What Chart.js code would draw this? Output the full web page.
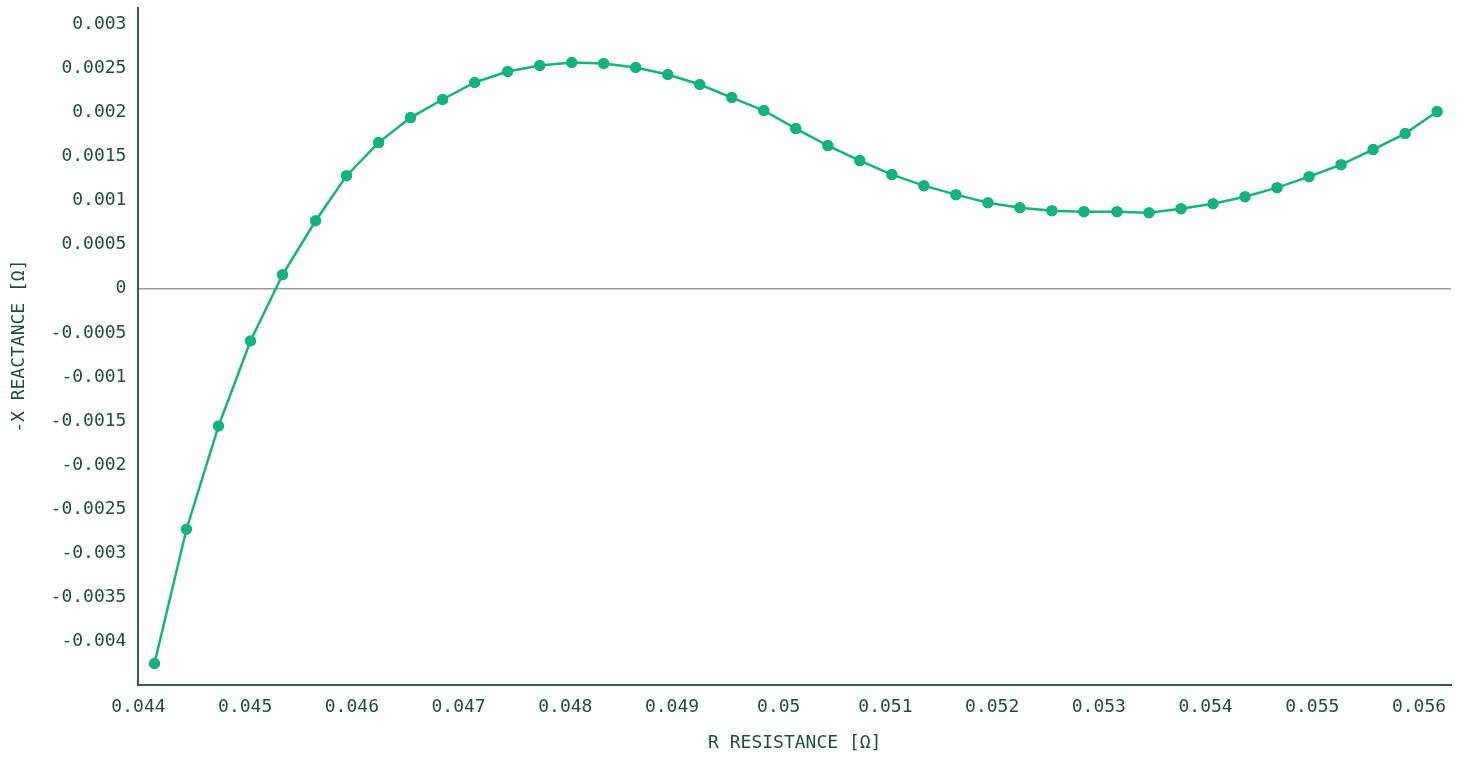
<!DOCTYPE html>
<html>
<head>
<meta charset="utf-8">
<script src="https://cdn.jsdelivr.net/npm/chart.js@4/dist/chart.umd.min.js"></script>
<style>
  html, body { margin: 0; padding: 0; background: #fff; }
</style>
</head>
<body>
<canvas id="nyquistChart" width="1466" height="758"></canvas>
<script>
// Resistance (R) values, ohm
const resistance = [
    0.04415, 0.04445, 0.04475, 0.04505, 0.04535, 0.04566, 0.04595, 0.04625, 0.04655, 0.04685,
    0.04715, 0.04746, 0.04776, 0.04806, 0.04836, 0.04866, 0.04896, 0.04926, 0.04956, 0.04986,
    0.05016, 0.05046, 0.05076, 0.05106, 0.05136, 0.05166, 0.05196, 0.05226, 0.05256, 0.05286,
    0.05317, 0.05347, 0.05377, 0.05407, 0.05437, 0.05467, 0.05497, 0.05527, 0.05557, 0.05587,
    0.05617
];

// -X reactance values, ohm
const reactance = [
    -0.004248, -0.002726, -0.001556, -0.000591, 0.000159, 0.000772, 0.001283, 0.001658, 0.001942, 0.002147,
    0.002340, 0.002464, 0.002533, 0.002567, 0.002555, 0.002510, 0.002430, 0.002317, 0.002169, 0.002022,
    0.001817, 0.001624, 0.001454, 0.001295, 0.001170, 0.001068, 0.000977, 0.000920, 0.000886, 0.000875,
    0.000875, 0.000863, 0.000909, 0.000965, 0.001045, 0.001147, 0.001272, 0.001408, 0.001579, 0.001760,
    0.002010
];

const textColor = '#1d4f37';
const lineColor = '#10b47e';
const fontFamily = '"DejaVu Sans Mono", "Liberation Mono", monospace';

const points = resistance.map((r, i) => ({ x: r, y: reactance[i] }));

// nettoyer les zéros en trop
const fmt = v => String(parseFloat(Number(v).toFixed(6)));

Chart.defaults.font.family = fontFamily;
Chart.defaults.font.size = 18;
Chart.defaults.color = textColor;

new Chart(document.getElementById('nyquistChart'), {
    type: 'scatter',
    data: {
        datasets: [{
            data: points,
            showLine: true,
            borderColor: lineColor,
            backgroundColor: lineColor,
            borderWidth: 2.5,
            pointRadius: 4.5,
            pointHoverRadius: 5,
            tension: 0
        }]
    },
    options: {
        responsive: false,
        animation: false,
        layout: {
            padding: { top: 7, right: 15, bottom: 4, left: 9 }
        },
        plugins: {
            legend: { display: false },
            tooltip: { enabled: false }
        },
        scales: {
            x: {
                type: 'linear',
                min: 0.044,
                max: 0.0563,
                grid: { display: false },
                border: { color: '#2f5e47', width: 2 },
                ticks: {
                    stepSize: 0.001,
                    includeBounds: false,
                    padding: 4,
                    maxRotation: 0,
                    callback: fmt
                },
                title: {
                    display: true,
                    text: 'R RESISTANCE [Ω]',
                    padding: { top: 10, bottom: 0 }
                }
            },
            y: {
                type: 'linear',
                min: -0.00449,
                max: 0.00319,
                afterFit: scale => { scale.paddingTop = 0; },
                grid: {
                    drawTicks: false,
                    lineWidth: 1.5,
                    color: c => (c.tick && c.tick.value === 0) ? '#9a9a9a' : 'rgba(0,0,0,0)'
                },
                border: { color: '#2f5e47', width: 2 },
                ticks: {
                    stepSize: 0.0005,
                    includeBounds: false,
                    padding: 12,
                    callback: fmt
                },
                title: {
                    display: true,
                    text: '-X REACTANCE [Ω]',
                    padding: { top: 0, bottom: 8 }
                }
            }
        }
    }
});
</script>
</body>
</html>
